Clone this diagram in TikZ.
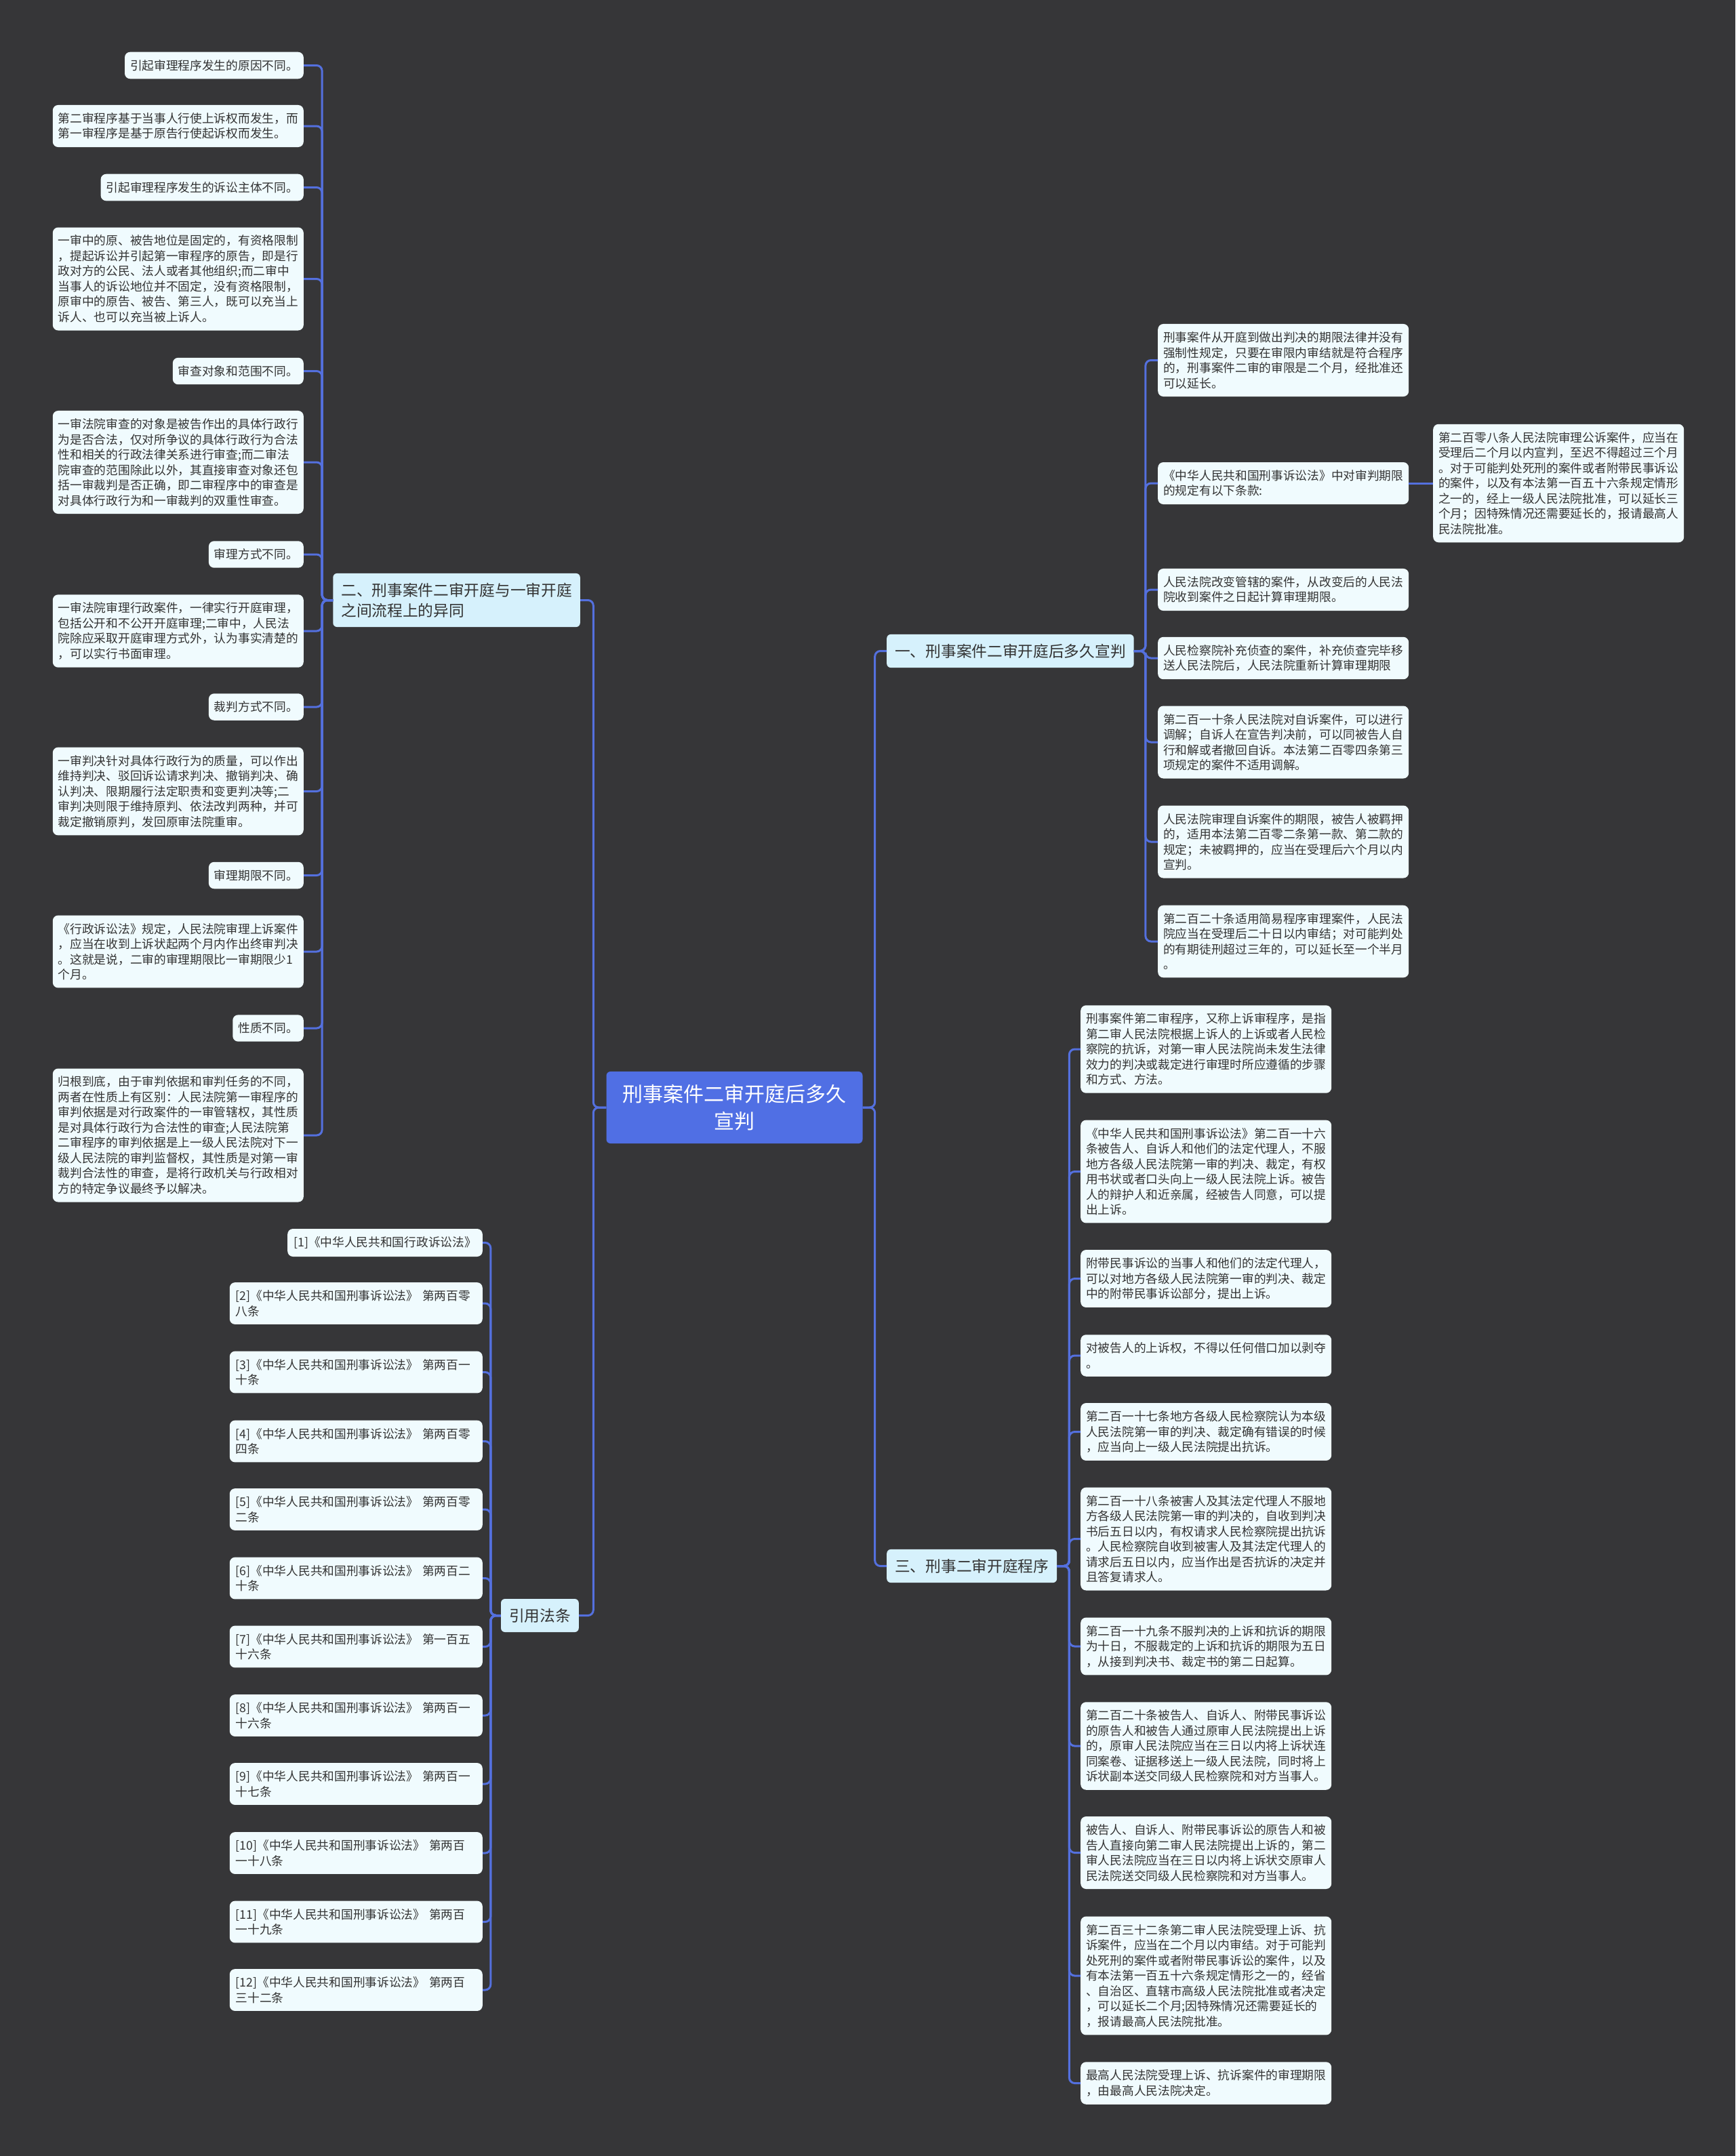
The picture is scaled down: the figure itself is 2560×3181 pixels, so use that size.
\documentclass[tikz,border=0pt]{standalone}
\usepackage{fontspec}
\setmainfont{Noto Sans CJK SC}

\begin{document}
\begin{tikzpicture}[x=1pt, y=-1pt]
    % Colors and styles
    \definecolor{bgdark}{RGB}{54,54,56}
    \definecolor{linkblue}{RGB}{84,112,222}
    \definecolor{rootblue}{RGB}{80,111,228}
    \definecolor{topicfill}{RGB}{214,241,252}
    \definecolor{leaffill}{RGB}{240,251,254}
    \definecolor{textgray}{RGB}{51,51,51}
    \tikzstyle{link}=[draw=linkblue, line width=3pt, rounded corners=8pt]
    \tikzstyle{leaf}=[fill=leaffill, rounded corners=8pt, text=textgray, inner xsep=8pt, inner ysep=11.5pt, align=left, font=\fontsize{17.7pt}{22.5pt}\selectfont]
    \tikzstyle{refbox}=[leaf, inner xsep=9pt]
    \tikzstyle{refwide}=[refbox, text width=355pt]
    \tikzstyle{topic}=[fill=topicfill, rounded corners=6pt, text=textgray, inner xsep=12pt, inner ysep=14pt, align=left, font=\fontsize{22.7pt}{30pt}\selectfont]
    \tikzstyle{rootbox}=[fill=rootblue, rounded corners=6pt, text=white, inner xsep=24pt, inner ysep=19pt, align=center, font=\fontsize{30pt}{40pt}\selectfont]

    % Background
    \fill[bgdark] (0,0) rectangle (2560,3181);

    % Root and main topics
    \node[rootbox] (root) at (1083.5,1634) {刑事案件二审开庭后多久\\宣判};
    \node[topic, anchor=east] (n2) at (856,885.5) {二、刑事案件二审开庭与一审开庭\\之间流程上的异同};
    \node[topic, anchor=west] (n1) at (1308,960.5) {一、刑事案件二审开庭后多久宣判};
    \node[topic, anchor=west] (n3) at (1308,2310.5) {三、刑事二审开庭程序};
    \node[topic, anchor=east] (nref) at (854,2383.5) {引用法条};

    % Left branch: differences
    \node[leaf, anchor=east] (l1) at (448,96.5) {引起审理程序发生的原因不同。};
    \node[leaf, anchor=east] (l2) at (448,186) {第二审程序基于当事人行使上诉权而发生，而\\第一审程序是基于原告行使起诉权而发生。};
    \node[leaf, anchor=east] (l3) at (448,276.5) {引起审理程序发生的诉讼主体不同。};
    \node[leaf, anchor=east] (l4) at (448,411.5) {一审中的原、被告地位是固定的，有资格限制\\，提起诉讼并引起第一审程序的原告，即是行\\政对方的公民、法人或者其他组织;而二审中\\当事人的诉讼地位并不固定，没有资格限制，\\原审中的原告、被告、第三人，既可以充当上\\诉人、也可以充当被上诉人。};
    \node[leaf, anchor=east] (l5) at (448,547.5) {审查对象和范围不同。};
    \node[leaf, anchor=east] (l6) at (448,682) {一审法院审查的对象是被告作出的具体行政行\\为是否合法，仅对所争议的具体行政行为合法\\性和相关的行政法律关系进行审查;而二审法\\院审查的范围除此以外，其直接审查对象还包\\括一审裁判是否正确，即二审程序中的审查是\\对具体行政行为和一审裁判的双重性审查。};
    \node[leaf, anchor=east] (l7) at (448,818) {审理方式不同。};
    \node[leaf, anchor=east] (l8) at (448,931) {一审法院审理行政案件，一律实行开庭审理，\\包括公开和不公开开庭审理;二审中，人民法\\院除应采取开庭审理方式外，认为事实清楚的\\，可以实行书面审理。};
    \node[leaf, anchor=east] (l9) at (448,1043) {裁判方式不同。};
    \node[leaf, anchor=east] (l10) at (448,1167.5) {一审判决针对具体行政行为的质量，可以作出\\维持判决、驳回诉讼请求判决、撤销判决、确\\认判决、限期履行法定职责和变更判决等;二\\审判决则限于维持原判、依法改判两种，并可\\裁定撤销原判，发回原审法院重审。};
    \node[leaf, anchor=east] (l11) at (448,1291.5) {审理期限不同。};
    \node[leaf, anchor=east] (l12) at (448,1404) {《行政诉讼法》规定，人民法院审理上诉案件\\，应当在收到上诉状起两个月内作出终审判决\\。这就是说，二审的审理期限比一审期限少1\\个月。};
    \node[leaf, anchor=east] (l13) at (448,1517) {性质不同。};
    \node[leaf, anchor=east] (l14) at (448,1675) {归根到底，由于审判依据和审判任务的不同，\\两者在性质上有区别：人民法院第一审程序的\\审判依据是对行政案件的一审管辖权，其性质\\是对具体行政行为合法性的审查;人民法院第\\二审程序的审判依据是上一级人民法院对下一\\级人民法院的审判监督权，其性质是对第一审\\裁判合法性的审查，是将行政机关与行政相对\\方的特定争议最终予以解决。};

    % Right branch: time limits
    \node[leaf, anchor=west] (r1) at (1708,531.5) {刑事案件从开庭到做出判决的期限法律并没有\\强制性规定，只要在审限内审结就是符合程序\\的，刑事案件二审的审限是二个月，经批准还\\可以延长。};
    \node[leaf, anchor=west] (r2) at (1708,713) {《中华人民共和国刑事诉讼法》中对审判期限\\的规定有以下条款:};
    \node[leaf, anchor=west] (r2a) at (2114,713) {第二百零八条人民法院审理公诉案件，应当在\\受理后二个月以内宣判，至迟不得超过三个月\\。对于可能判处死刑的案件或者附带民事诉讼\\的案件，以及有本法第一百五十六条规定情形\\之一的，经上一级人民法院批准，可以延长三\\个月；因特殊情况还需要延长的，报请最高人\\民法院批准。};
    \node[leaf, anchor=west] (r3) at (1708,870) {人民法院改变管辖的案件，从改变后的人民法\\院收到案件之日起计算审理期限。};
    \node[leaf, anchor=west] (r4) at (1708,971) {人民检察院补充侦查的案件，补充侦查完毕移\\送人民法院后，人民法院重新计算审理期限};
    \node[leaf, anchor=west] (r5) at (1708,1095) {第二百一十条人民法院对自诉案件，可以进行\\调解；自诉人在宣告判决前，可以同被告人自\\行和解或者撤回自诉。本法第二百零四条第三\\项规定的案件不适用调解。};
    \node[leaf, anchor=west] (r6) at (1708,1242) {人民法院审理自诉案件的期限，被告人被羁押\\的，适用本法第二百零二条第一款、第二款的\\规定；未被羁押的，应当在受理后六个月以内\\宣判。};
    \node[leaf, anchor=west] (r7) at (1708,1389) {第二百二十条适用简易程序审理案件，人民法\\院应当在受理后二十日以内审结；对可能判处\\的有期徒刑超过三年的，可以延长至一个半月\\。};

    % Right branch: second instance procedure
    \node[leaf, anchor=west] (t1) at (1594,1548) {刑事案件第二审程序，又称上诉审程序，是指\\第二审人民法院根据上诉人的上诉或者人民检\\察院的抗诉，对第一审人民法院尚未发生法律\\效力的判决或裁定进行审理时所应遵循的步骤\\和方式、方法。};
    \node[leaf, anchor=west] (t2) at (1594,1728.5) {《中华人民共和国刑事诉讼法》第二百一十六\\条被告人、自诉人和他们的法定代理人，不服\\地方各级人民法院第一审的判决、裁定，有权\\用书状或者口头向上一级人民法院上诉。被告\\人的辩护人和近亲属，经被告人同意，可以提\\出上诉。};
    \node[leaf, anchor=west] (t3) at (1594,1886.5) {附带民事诉讼的当事人和他们的法定代理人，\\可以对地方各级人民法院第一审的判决、裁定\\中的附带民事诉讼部分，提出上诉。};
    \node[leaf, anchor=west] (t4) at (1594,2000) {对被告人的上诉权，不得以任何借口加以剥夺\\。};
    \node[leaf, anchor=west] (t5) at (1594,2112.5) {第二百一十七条地方各级人民检察院认为本级\\人民法院第一审的判决、裁定确有错误的时候\\，应当向上一级人民法院提出抗诉。};
    \node[leaf, anchor=west] (t6) at (1594,2270.5) {第二百一十八条被害人及其法定代理人不服地\\方各级人民法院第一审的判决的，自收到判决\\书后五日以内，有权请求人民检察院提出抗诉\\。人民检察院自收到被害人及其法定代理人的\\请求后五日以内，应当作出是否抗诉的决定并\\且答复请求人。};
    \node[leaf, anchor=west] (t7) at (1594,2429) {第二百一十九条不服判决的上诉和抗诉的期限\\为十日，不服裁定的上诉和抗诉的期限为五日\\，从接到判决书、裁定书的第二日起算。};
    \node[leaf, anchor=west] (t8) at (1594,2576) {第二百二十条被告人、自诉人、附带民事诉讼\\的原告人和被告人通过原审人民法院提出上诉\\的，原审人民法院应当在三日以内将上诉状连\\同案卷、证据移送上一级人民法院，同时将上\\诉状副本送交同级人民检察院和对方当事人。};
    \node[leaf, anchor=west] (t9) at (1594,2733.5) {被告人、自诉人、附带民事诉讼的原告人和被\\告人直接向第二审人民法院提出上诉的，第二\\审人民法院应当在三日以内将上诉状交原审人\\民法院送交同级人民检察院和对方当事人。};
    \node[leaf, anchor=west] (t10) at (1594,2915) {第二百三十二条第二审人民法院受理上诉、抗\\诉案件，应当在二个月以内审结。对于可能判\\处死刑的案件或者附带民事诉讼的案件，以及\\有本法第一百五十六条规定情形之一的，经省\\、自治区、直辖市高级人民法院批准或者决定\\，可以延长二个月;因特殊情况还需要延长的\\，报请最高人民法院批准。};
    \node[leaf, anchor=west] (t11) at (1594,3073.5) {最高人民法院受理上诉、抗诉案件的审理期限\\，由最高人民法院决定。};

    % Left branch: cited laws
    \node[refbox, anchor=east] (f1) at (712,1833.5) {[1]《中华人民共和国行政诉讼法》};
    \node[refwide, anchor=east] (f2) at (712,1923) {[2]《中华人民共和国刑事诉讼法》 第两百零\\八条};
    \node[refwide, anchor=east] (f3) at (712,2024.5) {[3]《中华人民共和国刑事诉讼法》 第两百一\\十条};
    \node[refwide, anchor=east] (f4) at (712,2126.5) {[4]《中华人民共和国刑事诉讼法》 第两百零\\四条};
    \node[refwide, anchor=east] (f5) at (712,2227) {[5]《中华人民共和国刑事诉讼法》 第两百零\\二条};
    \node[refwide, anchor=east] (f6) at (712,2328.5) {[6]《中华人民共和国刑事诉讼法》 第两百二\\十条};
    \node[refwide, anchor=east] (f7) at (712,2429.5) {[7]《中华人民共和国刑事诉讼法》 第一百五\\十六条};
    \node[refwide, anchor=east] (f8) at (712,2531) {[8]《中华人民共和国刑事诉讼法》 第两百一\\十六条};
    \node[refwide, anchor=east] (f9) at (712,2632) {[9]《中华人民共和国刑事诉讼法》 第两百一\\十七条};
    \node[refwide, anchor=east] (f10) at (712,2734) {[10]《中华人民共和国刑事诉讼法》 第两百\\一十八条};
    \node[refwide, anchor=east] (f11) at (712,2835.5) {[11]《中华人民共和国刑事诉讼法》 第两百\\一十九条};
    \node[refwide, anchor=east] (f12) at (712,2936) {[12]《中华人民共和国刑事诉讼法》 第两百\\三十二条};

    % Connectors
    \foreach \c in {n2,nref}
        \draw[link] (root.west) -- ++(-19,0) |- (\c.east);
    \foreach \c in {n1,n3}
        \draw[link] (root.east) -- ++(18,0) |- (\c.west);
    \foreach \i in {1,...,14}
        \draw[link] (n2.west) -- ++(-16,0) |- (l\i.east);
    \foreach \c in {r1,r2,r3,r4,r5,r6,r7}
        \draw[link] (n1.east) -- ++(17,0) |- (\c.west);
    \draw[link] (r2.east) -- (r2a.west);
    \foreach \i in {1,...,11}
        \draw[link] (n3.east) -- ++(18,0) |- (t\i.west);
    \foreach \i in {1,...,12}
        \draw[link] (nref.west) -- ++(-15,0) |- (f\i.east);

\end{tikzpicture}
\end{document}
